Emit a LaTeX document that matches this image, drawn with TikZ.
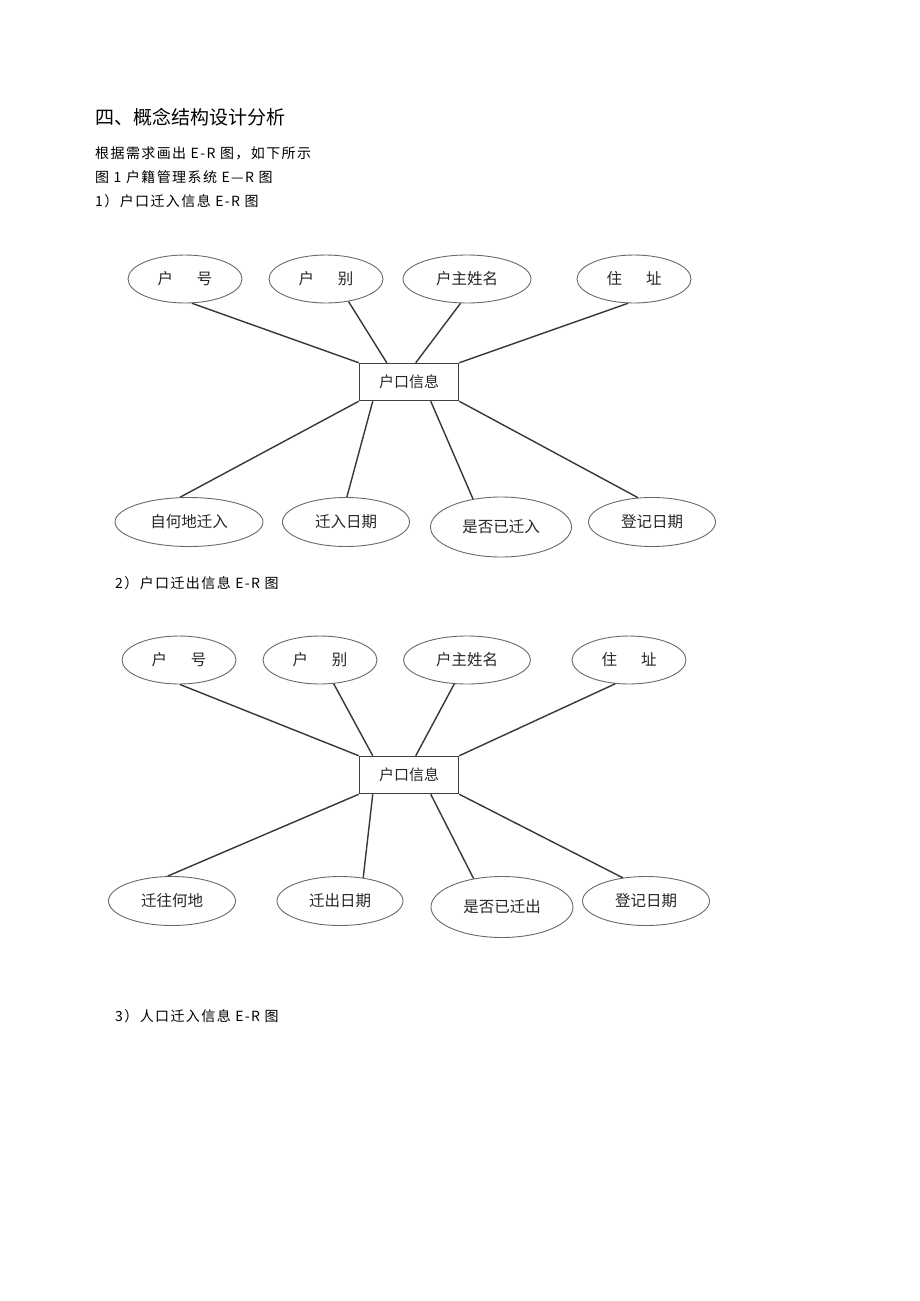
\documentclass[tikz,border=0pt]{standalone}
\usepackage{fontspec}
\newfontfamily\cjk{Noto Sans CJK SC}
\newfontfamily\cjkwide[LetterSpace=10]{Noto Sans CJK SC}
\usetikzlibrary{shapes.geometric}
\definecolor{attrline}{RGB}{96,112,96}
\definecolor{linkline}{RGB}{55,55,55}
\begin{document}
\begin{tikzpicture}[
    x=1pt, y=-1pt,
    attr/.style={
      ellipse,
      draw=attrline,
      line width=0.9pt,
      minimum width=114pt,
      minimum height=48pt,
      inner sep=0pt,
      text=black!85,
      font=\cjk\fontsize{15.5}{16}\selectfont
    },
    entity/.style={
      rectangle,
      draw=black!75,
      line width=1.5pt,
      minimum width=99pt,
      minimum height=37pt,
      inner sep=0pt,
      text=black!85,
      font=\cjk\fontsize{15}{16}\selectfont
    },
    link/.style={
      draw=linkline,
      line width=1.4pt
    },
    heading/.style={
      anchor=west,
      inner sep=0pt,
      font=\cjkwide\fontsize{14}{16}\selectfont
    }
  ]
    \useasboundingbox[fill=white] (0,0) rectangle (920,1301);

    % Page text
    \node (title) [heading, font=\cjk\fontsize{19}{20}\selectfont] at (95,117) {四、概念结构设计分析};
    \node (intro) [heading] at (95,153) {根据需求画出 E-R 图，如下所示};
    \node (fig) [heading] at (95,177) {图 1 户籍管理系统 E—R 图};
    \node (cap1) [heading] at (95,201) {1）户口迁入信息 E-R 图};
    \node (cap2) [heading] at (115,583) {2）户口迁出信息 E-R 图};
    \node (cap3) [heading] at (115,1016) {3）人口迁入信息 E-R 图};

    % Diagram 1: top row of attributes
    \node (hh1) [attr] at (185,279) {户\hspace{24pt}号};
    \node (hb1) [attr] at (326,279) {户\hspace{24pt}别};
    \node (hz1) [attr, minimum width=128pt] at (467,279) {户主姓名};
    \node (zz1) [attr] at (634,279) {住\hspace{24pt}址};

    % Diagram 1: entity
    \node (ent1) [entity] at (409,382) {户口信息};

    % Diagram 1: bottom row of attributes
    \node (zd1) [attr, minimum width=148pt, minimum height=49pt] at (189,522) {自何地迁入};
    \node (rq1) [attr, minimum width=127pt, minimum height=49pt] at (346,522) {迁入日期};
    \node (sf1) [attr, minimum width=141pt, minimum height=60pt] at (501,527) {是否已迁入};
    \node (dj1) [attr, minimum width=127pt, minimum height=49pt] at (652,522) {登记日期};

    % Diagram 1: links
    \draw [link] (hh1.-74) -- (ent1.north west);
    \draw [link] (hb1.-45) -- ([xshift=28pt]ent1.north west);
    \draw [link] (hz1.-105) -- ([xshift=57pt]ent1.north west);
    \draw [link] (zz1.-104) -- (ent1.north east);
    \draw [link] (ent1.south west) -- (zd1.110);
    \draw [link] ([xshift=14pt]ent1.south west) -- (rq1.88);
    \draw [link] ([xshift=72pt]ent1.south west) -- (sf1.135);
    \draw [link] (ent1.south east) -- (dj1.120);

    % Diagram 2: top row of attributes
    \node (hh2) [attr] at (179,660) {户\hspace{24pt}号};
    \node (hb2) [attr] at (320,660) {户\hspace{24pt}别};
    \node (hz2) [attr, minimum width=127pt] at (467,660) {户主姓名};
    \node (zz2) [attr] at (629,660) {住\hspace{24pt}址};

    % Diagram 2: entity
    \node (ent2) [entity] at (409,775) {户口信息};

    % Diagram 2: bottom row of attributes
    \node (qw2) [attr, minimum width=127pt, minimum height=49pt] at (172,901) {迁往何地};
    \node (rq2) [attr, minimum width=126pt, minimum height=49pt] at (340,901) {迁出日期};
    \node (sf2) [attr, minimum width=142pt, minimum height=61pt] at (502,907) {是否已迁出};
    \node (dj2) [attr, minimum width=127pt, minimum height=49pt] at (646,901) {登记日期};

    % Diagram 2: links
    \draw [link] (hh2.-88) -- (ent2.north west);
    \draw [link] (hb2.-60) -- ([xshift=14pt]ent2.north west);
    \draw [link] (hz2.-118) -- ([xshift=57pt]ent2.north west);
    \draw [link] (zz2.-120) -- (ent2.north east);
    \draw [link] (ent2.south west) -- (qw2.100);
    \draw [link] ([xshift=14pt]ent2.south west) -- (rq2.45);
    \draw [link] ([xshift=72pt]ent2.south west) -- (sf2.135);
    \draw [link] (ent2.south east) -- (dj2.135);

\end{tikzpicture}
\end{document}
